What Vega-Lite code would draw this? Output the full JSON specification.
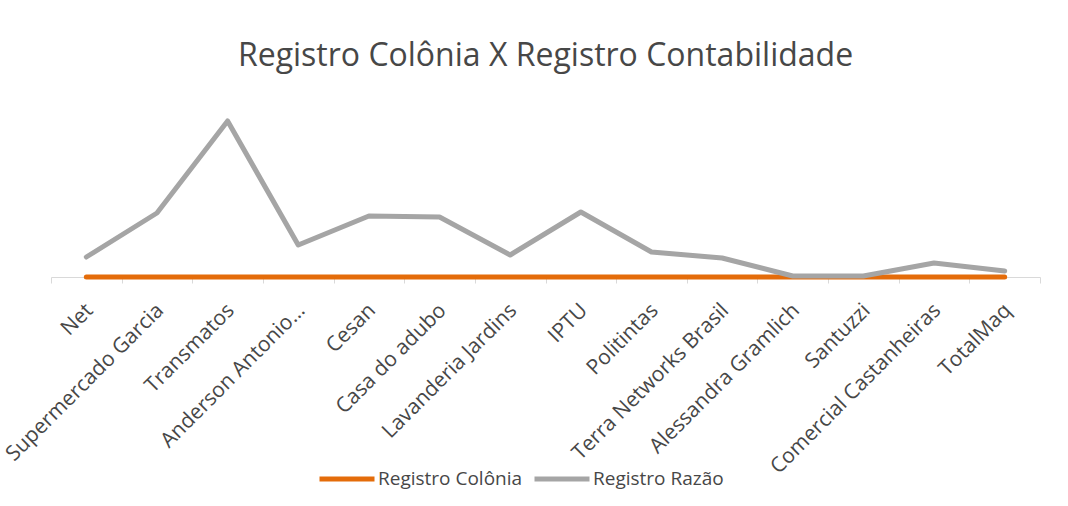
{
  "$schema": "https://vega.github.io/schema/vega-lite/v6.json",
  "width": 989,
  "height": 200,
  "autosize": {"type": "none"},
  "padding": {"left": 51, "top": 77, "right": 28, "bottom": 229},
  "background": "white",
  "title": {
    "text": "Registro Colônia X Registro Contabilidade",
    "font": "Open Sans",
    "fontSize": 32,
    "fontWeight": "normal",
    "color": "#474747",
    "anchor": "middle",
    "baseline": "alphabetic",
    "offset": -21
  },
  "data": {
    "values": [
      {"empresa": "Net", "serie": "Registro Colônia", "valor": 0},
      {"empresa": "Supermercado Garcia", "serie": "Registro Colônia", "valor": 0},
      {"empresa": "Transmatos", "serie": "Registro Colônia", "valor": 0},
      {"empresa": "Anderson Antonio…", "serie": "Registro Colônia", "valor": 0},
      {"empresa": "Cesan", "serie": "Registro Colônia", "valor": 0},
      {"empresa": "Casa do adubo", "serie": "Registro Colônia", "valor": 0},
      {"empresa": "Lavanderia Jardins", "serie": "Registro Colônia", "valor": 0},
      {"empresa": "IPTU", "serie": "Registro Colônia", "valor": 0},
      {"empresa": "Politintas", "serie": "Registro Colônia", "valor": 0},
      {"empresa": "Terra Networks Brasil", "serie": "Registro Colônia", "valor": 0},
      {"empresa": "Alessandra Gramlich", "serie": "Registro Colônia", "valor": 0},
      {"empresa": "Santuzzi", "serie": "Registro Colônia", "valor": 0},
      {"empresa": "Comercial Castanheiras", "serie": "Registro Colônia", "valor": 0},
      {"empresa": "TotalMaq", "serie": "Registro Colônia", "valor": 0},
      {"empresa": "Net", "serie": "Registro Razão", "valor": 20},
      {"empresa": "Supermercado Garcia", "serie": "Registro Razão", "valor": 64},
      {"empresa": "Transmatos", "serie": "Registro Razão", "valor": 156},
      {"empresa": "Anderson Antonio…", "serie": "Registro Razão", "valor": 32},
      {"empresa": "Cesan", "serie": "Registro Razão", "valor": 61},
      {"empresa": "Casa do adubo", "serie": "Registro Razão", "valor": 60},
      {"empresa": "Lavanderia Jardins", "serie": "Registro Razão", "valor": 22},
      {"empresa": "IPTU", "serie": "Registro Razão", "valor": 65},
      {"empresa": "Politintas", "serie": "Registro Razão", "valor": 25},
      {"empresa": "Terra Networks Brasil", "serie": "Registro Razão", "valor": 19},
      {"empresa": "Alessandra Gramlich", "serie": "Registro Razão", "valor": 1},
      {"empresa": "Santuzzi", "serie": "Registro Razão", "valor": 1},
      {"empresa": "Comercial Castanheiras", "serie": "Registro Razão", "valor": 14},
      {"empresa": "TotalMaq", "serie": "Registro Razão", "valor": 6}
    ]
  },
  "mark": {"type": "line", "strokeWidth": 5, "strokeCap": "round", "strokeJoin": "round"},
  "encoding": {
    "x": {
      "field": "empresa",
      "type": "nominal",
      "sort": null,
      "title": null,
      "scale": {"type": "band", "paddingInner": 0, "paddingOuter": 0},
      "axis": {
        "domainColor": "#d9d9d9",
        "domainWidth": 1,
        "tickColor": "#d9d9d9",
        "tickSize": 6,
        "tickBand": "extent",
        "labelAngle": -45,
        "labelAlign": "right",
        "labelBaseline": "middle",
        "labelPadding": 24,
        "labelOffset": 3,
        "labelFont": "Open Sans",
        "labelFontSize": 21,
        "labelColor": "#474747",
        "labelLimit": 400,
        "labelOverlap": false
      }
    },
    "y": {
      "field": "valor",
      "type": "quantitative",
      "scale": {"domain": [0, 200]},
      "axis": null
    },
    "color": {
      "field": "serie",
      "type": "nominal",
      "scale": {"domain": ["Registro Colônia", "Registro Razão"], "range": ["#E46C0A", "#A5A5A5"]},
      "legend": {
        "title": null,
        "orient": "none",
        "direction": "horizontal",
        "legendX": 266,
        "legendY": 372,
        "symbolType": "stroke",
        "symbolSize": 3025,
        "symbolStrokeWidth": 5,
        "labelOffset": 1,
        "columnPadding": 1,
        "labelFont": "Open Sans",
        "labelFontSize": 19,
        "labelColor": "#474747"
      }
    }
  },
  "config": {"view": {"stroke": null}}
}
